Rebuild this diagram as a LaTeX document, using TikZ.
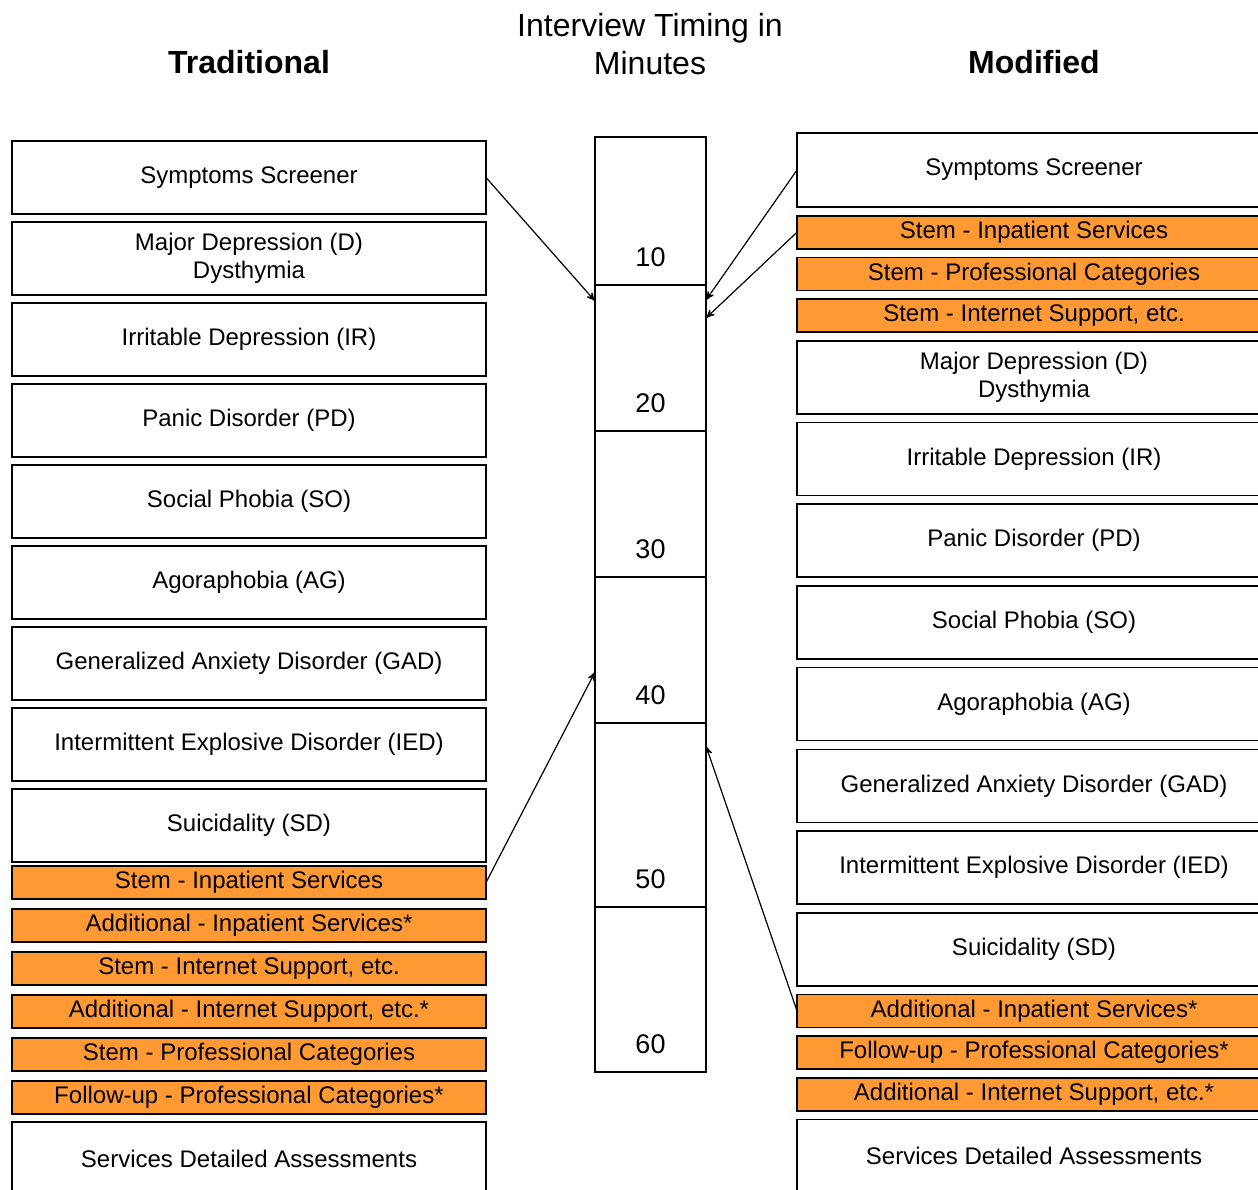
\documentclass[tikz,border=0pt]{standalone}
\usepackage{fontspec}
\setmainfont{Liberation Sans}
\usepackage{xcolor}
\usetikzlibrary{arrows,positioning}
\definecolor{stemorange}{RGB}{255,153,51}

\begin{document}
\begin{tikzpicture}[x=0.5pt, y=-0.5pt, >=stealth', node distance=4pt,
  box/.style={draw, rectangle, line width=0.8pt, outer sep=0pt, minimum width=237pt, minimum height=36.5pt, inner sep=0pt, align=center, font=\fontsize{12}{14}\selectfont},
  obox/.style={box, fill=stemorange, minimum height=16.5pt},
  tick/.style={draw, rectangle, line width=0.8pt, outer sep=0pt, minimum width=55.5pt, inner sep=0pt},
  num/.style={inner sep=0pt, font=\fontsize{13.5}{16}\selectfont},
  title/.style={align=center, font=\fontsize{16}{19}\selectfont},
  link/.style={->, line width=0.6pt}]
\useasboundingbox (0,0) rectangle (1258,1189);
\clip (0,0) rectangle (1258,1189);

\node[title, font=\fontsize{16}{19}\selectfont\bfseries] (ttrad) at (249,62) {Traditional};
\node[title] (ttime) at (650,44) {Interview Timing in\\Minutes};
\node[title, font=\fontsize{16}{19}\selectfont\bfseries] (tmod) at (1034,62) {Modified};

\node[box, anchor=north west] (lss) at (12,141) {Symptoms Screener};
\node[box, below=of lss] (lmd) {Major Depression (D)\\Dysthymia};
\node[box, below=of lmd] (lir) {Irritable Depression (IR)};
\node[box, below=of lir] (lpd) {Panic Disorder (PD)};
\node[box, below=of lpd] (lso) {Social Phobia (SO)};
\node[box, below=of lso] (lag) {Agoraphobia (AG)};
\node[box, below=of lag] (lgad) {Generalized Anxiety Disorder (GAD)};
\node[box, below=of lgad] (lied) {Intermittent Explosive Disorder (IED)};
\node[box, below=of lied] (lsd) {Suicidality (SD)};
\node[obox, below=2pt of lsd] (lsi) {Stem - Inpatient Services};
\node[obox, below=5pt of lsi] (lai) {Additional - Inpatient Services*};
\node[obox, below=5pt of lai] (lsis) {Stem - Internet Support, etc.};
\node[obox, below=5pt of lsis] (lais) {Additional - Internet Support, etc.*};
\node[obox, below=5pt of lais] (lspc) {Stem - Professional Categories};
\node[obox, below=5pt of lspc] (lfpc) {Follow-up - Professional Categories*};
\node[box, below=of lfpc] (lsda) {Services Detailed Assessments};

\node[tick, minimum height=74pt, anchor=north west] (t10) at (595,137) {};
\node[tick, minimum height=73pt, below=0pt of t10] (t20) {};
\node[tick, minimum height=73pt, below=0pt of t20] (t30) {};
\node[tick, minimum height=73pt, below=0pt of t30] (t40) {};
\node[tick, minimum height=92pt, below=0pt of t40] (t50) {};
\node[tick, minimum height=82.5pt, below=0pt of t50] (t60) {};
\node[num, above=9pt of t10.south] (n10) {10};
\node[num, above=9pt of t20.south] (n20) {20};
\node[num, above=9pt of t30.south] (n30) {30};
\node[num, above=9pt of t40.south] (n40) {40};
\node[num, above=9pt of t50.south] (n50) {50};
\node[num, above=9pt of t60.south] (n60) {60};

\node[box, anchor=north west, minimum height=37pt] (rss) at (797,133) {Symptoms Screener};
\node[obox, below=4.35pt of rss] (rsi) {Stem - Inpatient Services};
\node[obox, below=4.35pt of rsi] (rspc) {Stem - Professional Categories};
\node[obox, below=4.35pt of rspc] (rsis) {Stem - Internet Support, etc.};
\node[box, below=4.35pt of rsis] (rmd) {Major Depression (D)\\Dysthymia};
\node[box, below=4.35pt of rmd] (rir) {Irritable Depression (IR)};
\node[box, below=4.35pt of rir] (rpd) {Panic Disorder (PD)};
\node[box, below=4.35pt of rpd] (rso) {Social Phobia (SO)};
\node[box, below=4.35pt of rso] (rag) {Agoraphobia (AG)};
\node[box, below=4.35pt of rag] (rgad) {Generalized Anxiety Disorder (GAD)};
\node[box, below=4.35pt of rgad] (ried) {Intermittent Explosive Disorder (IED)};
\node[box, below=4.35pt of ried] (rsd) {Suicidality (SD)};
\node[obox, below=4.35pt of rsd] (rai) {Additional - Inpatient Services*};
\node[obox, below=4.35pt of rai] (rfpc) {Follow-up - Professional Categories*};
\node[obox, below=4.35pt of rfpc] (rais) {Additional - Internet Support, etc.*};
\node[box, below=4.35pt of rais] (rsda) {Services Detailed Assessments};

\coordinate (e1) at (595,301);
\coordinate (e2) at (706,300);
\coordinate (e3) at (706,318);
\coordinate (e4) at (595,672);
\coordinate (e5) at (706,746);

\path[link]
(lss.east) edge (e1)
(rss.west) edge (e2)
(rsi.west) edge (e3)
(lsi.east) edge (e4)
(rai.west) edge (e5);
\end{tikzpicture}
\end{document}
